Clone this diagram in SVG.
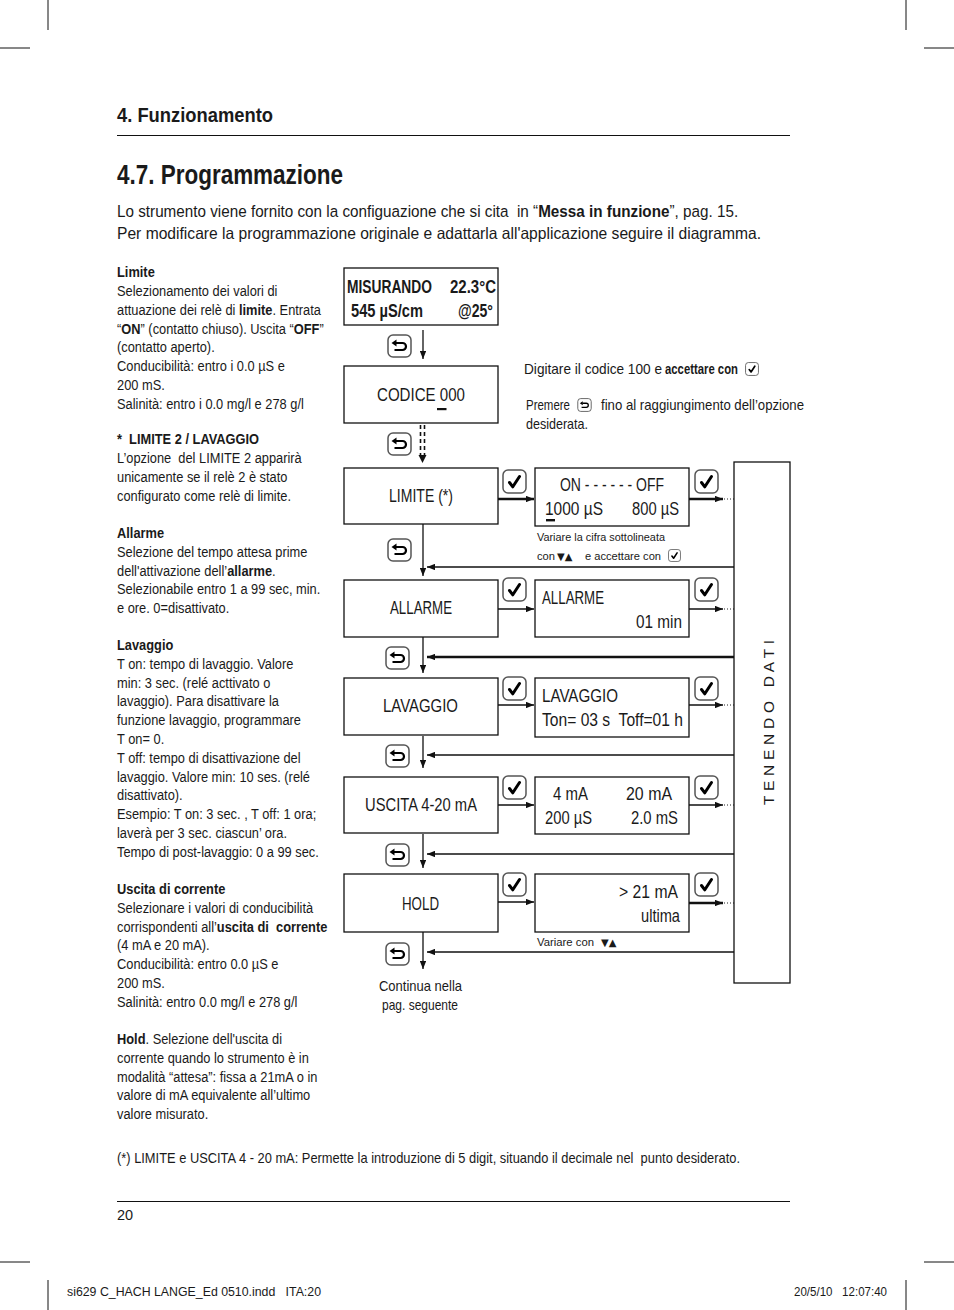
<svg xmlns="http://www.w3.org/2000/svg" width="954" height="1310" viewBox="0 0 954 1310">
<defs>
<style>
text{font-family:"Liberation Sans",Arial,sans-serif;fill:#1a1a1a}
.b{font-weight:bold}
.body{font-size:14.5px}
.d{font-size:17.5px}
.sm{font-size:11.5px}
.box{fill:#fff;stroke:#111;stroke-width:1.3}
.ln{stroke:#111;stroke-width:1.3;fill:none}
.tk{stroke-width:2.4}
.dot{stroke:#222;stroke-width:1;stroke-dasharray:1 2;fill:none}
.mark{stroke:#111;stroke-width:1;fill:none}
.dash{stroke:#111;stroke-width:1.6;stroke-dasharray:4 3;fill:none}
.tri{font-family:"DejaVu Sans",sans-serif;font-size:10px}
</style>
<marker id="ah" viewBox="0 0 10 8" refX="10" refY="4" markerWidth="8" markerHeight="6.4" markerUnits="userSpaceOnUse" orient="auto"><path d="M0,0 L10,4 L0,8 z" fill="#111"/></marker>
<symbol id="back" viewBox="0 0 25 24">
<rect x="1" y="1" width="23" height="22" rx="5" fill="#fff" stroke="#555" stroke-width="1.5"/>
<path d="M9 9 H15.5 A3.5 3.5 0 0 1 15.5 16 H7.5" fill="none" stroke="#000" stroke-width="2.2"/>
<path d="M4.5 9 L9.5 5.5 L9.5 12.5 Z" fill="#000"/>
</symbol>
<symbol id="chk" viewBox="0 0 25 25">
<rect x="1" y="1" width="23" height="23" rx="5" fill="#fff" stroke="#555" stroke-width="1.5"/>
<path d="M7.5 13.5 L10.8 17.8 L17.5 7.5" fill="none" stroke="#000" stroke-width="3" stroke-linecap="round" stroke-linejoin="round"/>
</symbol>
</defs>

<g id="cropmarks" class="mark">
<line x1="48" y1="0" x2="48" y2="30"/><line x1="0" y1="48" x2="30" y2="48"/>
<line x1="906" y1="0" x2="906" y2="30"/><line x1="924" y1="48" x2="954" y2="48"/>
<line x1="0" y1="1262" x2="30" y2="1262"/><line x1="924" y1="1262" x2="954" y2="1262"/>
<line x1="48" y1="1280" x2="48" y2="1310"/><line x1="906" y1="1280" x2="906" y2="1310"/>
</g>

<g id="header">
<text x="117" y="122" class="b" font-size="20" textLength="156" lengthAdjust="spacingAndGlyphs">4. Funzionamento</text>
<line x1="117" y1="135.5" x2="790" y2="135.5" stroke="#111" stroke-width="1.2"/>
<text x="117" y="184" class="b" font-size="28" textLength="226" lengthAdjust="spacingAndGlyphs">4.7. Programmazione</text>
<text transform="translate(117 217) scale(0.925 1)" x="0" y="0" font-size="16.5" xml:space="preserve">Lo strumento viene fornito con la configuazione che si cita  in “<tspan class="b">Messa in funzione</tspan>”, pag. 15.</text>
<text x="117" y="239" font-size="16.5" textLength="644" lengthAdjust="spacingAndGlyphs">Per modificare la programmazione originale e adattarla all'applicazione seguire il diagramma.</text>
</g>

<g id="sidebar" transform="translate(117 0) scale(0.885 1)">
<text x="0" y="277" class="body b">Limite</text>
<text x="0" y="295.9" class="body">Selezionamento dei valori di</text>
<text x="0" y="314.7" class="body">attuazione dei relè di <tspan class="b">limite</tspan>. Entrata</text>
<text x="0" y="333.6" class="body">“<tspan class="b">ON</tspan>” (contatto chiuso). Uscita “<tspan class="b">OFF</tspan>”</text>
<text x="0" y="352.4" class="body">(contatto aperto).</text>
<text x="0" y="371.3" class="body">Conducibilità: entro i 0.0 µS e</text>
<text x="0" y="390.1" class="body">200 mS.</text>
<text x="0" y="409" class="body">Salinità: entro i 0.0 mg/l e 278 g/l</text>

<text x="0" y="444.5" class="body b" xml:space="preserve">*  LIMITE 2 / LAVAGGIO</text>
<text x="0" y="463.3" class="body" xml:space="preserve">L’opzione  del LIMITE 2 apparirà</text>
<text x="0" y="482.2" class="body">unicamente se il relè 2 è stato</text>
<text x="0" y="501" class="body">configurato come relè di limite.</text>

<text x="0" y="538" class="body b">Allarme</text>
<text x="0" y="556.8" class="body">Selezione del tempo attesa prime</text>
<text x="0" y="575.6" class="body">dell'attivazione dell’<tspan class="b">allarme</tspan>.</text>
<text x="0" y="594.4" class="body">Selezionabile entro 1 a 99 sec, min.</text>
<text x="0" y="613.2" class="body">e ore. 0=disattivato.</text>

<text x="0" y="650" class="body b">Lavaggio</text>
<text x="0" y="668.8" class="body">T on: tempo di lavaggio. Valore</text>
<text x="0" y="687.6" class="body">min: 3 sec. (relé acttivato o</text>
<text x="0" y="706.4" class="body">lavaggio). Para disattivare la</text>
<text x="0" y="725.2" class="body">funzione lavaggio, programmare</text>
<text x="0" y="744" class="body">T on= 0.</text>
<text x="0" y="762.8" class="body">T off: tempo di disattivazione del</text>
<text x="0" y="781.6" class="body">lavaggio. Valore min: 10 ses. (relé</text>
<text x="0" y="800.4" class="body">disattivato).</text>
<text x="0" y="819.2" class="body">Esempio: T on: 3 sec. , T off: 1 ora;</text>
<text x="0" y="838" class="body">laverà per 3 sec. ciascun’ ora.</text>
<text x="0" y="856.8" class="body">Tempo di post-lavaggio: 0 a 99 sec.</text>

<text x="0" y="894" class="body b">Uscita di corrente</text>
<text x="0" y="912.8" class="body">Selezionare i valori di conducibilità</text>
<text x="0" y="931.6" class="body" xml:space="preserve">corrispondenti all’<tspan class="b">uscita di  corrente</tspan></text>
<text x="0" y="950.4" class="body">(4 mA e 20 mA).</text>
<text x="0" y="969.2" class="body">Conducibilità: entro 0.0 µS e</text>
<text x="0" y="988" class="body">200 mS.</text>
<text x="0" y="1006.8" class="body">Salinità: entro 0.0 mg/l e 278 g/l</text>

<text x="0" y="1044" class="body"><tspan class="b">Hold</tspan>. Selezione dell'uscita di</text>
<text x="0" y="1062.8" class="body">corrente quando lo strumento è in</text>
<text x="0" y="1081.6" class="body">modalità “attesa”: fissa a 21mA o in</text>
<text x="0" y="1100.4" class="body">valore di mA equivalente all’ultimo</text>
<text x="0" y="1119.2" class="body">valore misurato.</text>
</g>

<g id="connectors">
<line class="ln" x1="423" y1="330" x2="423" y2="359" marker-end="url(#ah)"/>
<line class="dash" x1="420.5" y1="425" x2="420.5" y2="455"/>
<line class="dash" x1="424.5" y1="425" x2="424.5" y2="455"/>
<path d="M418.5 455 L426.5 455 L422.5 463 Z" fill="#111"/>
<line class="ln" x1="423" y1="524" x2="423" y2="576" marker-end="url(#ah)"/>
<line class="ln" x1="423" y1="637" x2="423" y2="673" marker-end="url(#ah)"/>
<line class="ln" x1="423" y1="736" x2="423" y2="768" marker-end="url(#ah)"/>
<line class="ln" x1="423" y1="834" x2="423" y2="868" marker-end="url(#ah)"/>
<line class="ln" x1="423" y1="932" x2="423" y2="969" marker-end="url(#ah)"/>

<line class="ln tk" x1="498" y1="499" x2="534" y2="499" marker-end="url(#ah)"/>
<line class="ln" x1="498" y1="609" x2="534" y2="609" marker-end="url(#ah)"/>
<line class="ln" x1="498" y1="705" x2="534" y2="705" marker-end="url(#ah)"/>
<line class="ln" x1="498" y1="805" x2="534" y2="805" marker-end="url(#ah)"/>
<line class="ln" x1="498" y1="902" x2="534" y2="902" marker-end="url(#ah)"/>

<line class="ln tk" x1="689" y1="499" x2="723" y2="499" marker-end="url(#ah)"/>
<line class="ln" x1="689" y1="609" x2="723" y2="609" marker-end="url(#ah)"/>
<line class="ln" x1="689" y1="705" x2="723" y2="705" marker-end="url(#ah)"/>
<line class="ln" x1="689" y1="805" x2="723" y2="805" marker-end="url(#ah)"/>
<line class="ln tk" x1="689" y1="903" x2="723" y2="903" marker-end="url(#ah)"/>

<path class="dot" d="M724 499 H744.5 V567 H734"/>
<path class="dot" d="M724 609 H744.5 V657 H734"/>
<path class="dot" d="M724 705 H744.5 V755 H734"/>
<path class="dot" d="M724 805 H744.5 V854 H734"/>
<path class="dot" d="M724 903 H744.5 V952 H734"/>

<line class="ln" x1="734" y1="567" x2="427" y2="567" marker-end="url(#ah)"/>
<line class="ln tk" x1="734" y1="657" x2="427" y2="657" marker-end="url(#ah)"/>
<line class="ln" x1="734" y1="755" x2="427" y2="755" marker-end="url(#ah)"/>
<line class="ln" x1="734" y1="854" x2="427" y2="854" marker-end="url(#ah)"/>
<line class="ln" x1="734" y1="952" x2="427" y2="952" marker-end="url(#ah)"/>
</g>

<g id="keys">
<use href="#back" x="387" y="334" width="25" height="24"/>
<use href="#back" x="387" y="432" width="25" height="24"/>
<use href="#back" x="387" y="538" width="25" height="24"/>
<use href="#back" x="385" y="646" width="25" height="24"/>
<use href="#back" x="385" y="744" width="25" height="24"/>
<use href="#back" x="385" y="843" width="25" height="24"/>
<use href="#back" x="385" y="942" width="25" height="24"/>
<use href="#chk" x="502" y="469" width="25" height="25"/>
<use href="#chk" x="502" y="577" width="25" height="25"/>
<use href="#chk" x="502" y="676" width="25" height="25"/>
<use href="#chk" x="502" y="775" width="25" height="25"/>
<use href="#chk" x="502" y="872" width="25" height="25"/>
<use href="#chk" x="694" y="469" width="25" height="25"/>
<use href="#chk" x="694" y="577" width="25" height="25"/>
<use href="#chk" x="694" y="676" width="25" height="25"/>
<use href="#chk" x="694" y="775" width="25" height="25"/>
<use href="#chk" x="694" y="872" width="25" height="25"/>
</g>

<g id="misurando">
<rect class="box" x="344" y="268" width="154" height="57"/>
<text x="347" y="293" class="b" font-size="17.5" textLength="85" lengthAdjust="spacingAndGlyphs">MISURANDO</text>
<text x="450" y="293" class="b" font-size="17.5" textLength="46" lengthAdjust="spacingAndGlyphs">22.3°C</text>
<text x="351" y="317" class="b" font-size="17.5" textLength="72" lengthAdjust="spacingAndGlyphs">545 µS/cm</text>
<text x="458" y="317" class="b" font-size="17.5" textLength="35" lengthAdjust="spacingAndGlyphs">@25°</text>
</g>

<g id="codice">
<rect class="box" x="344" y="366" width="154" height="57"/>
<text x="377" y="401" class="d" textLength="88" lengthAdjust="spacingAndGlyphs">CODICE 000</text>
<rect x="437" y="408" width="9.5" height="2.2" fill="#111"/>
</g>

<g id="note-codice">
<text x="524" y="374" font-size="14.5" textLength="138" lengthAdjust="spacingAndGlyphs">Digitare il codice 100 e</text>
<text x="665" y="374" font-size="14.5" class="b" textLength="73" lengthAdjust="spacingAndGlyphs">accettare con</text>
<use href="#chk" x="745" y="362" width="14" height="14"/>
<text x="526" y="410" font-size="14.5" textLength="44" lengthAdjust="spacingAndGlyphs">Premere</text>
<use href="#back" x="577" y="398" width="15" height="14"/>
<text x="601" y="410" font-size="14.5" textLength="203" lengthAdjust="spacingAndGlyphs">fino al raggiungimento dell’opzione</text>
<text x="526" y="429" font-size="14.5" textLength="62" lengthAdjust="spacingAndGlyphs">desiderata.</text>
</g>

<g id="limite">
<rect class="box" x="344" y="468" width="154" height="56"/>
<text x="389" y="502" class="d" textLength="64" lengthAdjust="spacingAndGlyphs">LIMITE (*)</text>
</g>
<g id="limite-val">
<rect class="box" x="535" y="468" width="154" height="58"/>
<text x="560" y="491" class="d" textLength="104" lengthAdjust="spacingAndGlyphs">ON - - - - - - OFF</text>
<text x="545" y="515" class="d" textLength="58" lengthAdjust="spacingAndGlyphs">1000 µS</text>
<text x="632" y="515" class="d" textLength="47" lengthAdjust="spacingAndGlyphs">800 µS</text>
<rect x="546" y="519" width="9" height="2.4" fill="#111"/>
<text x="537" y="541" class="sm" textLength="128" lengthAdjust="spacingAndGlyphs">Variare la cifra sottolineata</text>
<text x="537" y="560" class="sm" textLength="18" lengthAdjust="spacingAndGlyphs">con</text>
<text x="557" y="560" class="tri">▼▲</text>
<text x="585" y="560" class="sm" textLength="76" lengthAdjust="spacingAndGlyphs">e accettare con</text>
<use href="#chk" x="668" y="549" width="13" height="13"/>
</g>

<g id="allarme">
<rect class="box" x="344" y="580" width="154" height="57"/>
<text x="390" y="614" class="d" textLength="62" lengthAdjust="spacingAndGlyphs">ALLARME</text>
</g>
<g id="allarme-val">
<rect class="box" x="535" y="580" width="154" height="57"/>
<text x="542" y="604" class="d" textLength="62" lengthAdjust="spacingAndGlyphs">ALLARME</text>
<text x="636" y="628" class="d" textLength="46" lengthAdjust="spacingAndGlyphs">01 min</text>
</g>

<g id="lavaggio">
<rect class="box" x="344" y="678" width="154" height="57"/>
<text x="383" y="712" class="d" textLength="75" lengthAdjust="spacingAndGlyphs">LAVAGGIO</text>
</g>
<g id="lavaggio-val">
<rect class="box" x="535" y="678" width="154" height="59"/>
<text x="542" y="702" class="d" textLength="76" lengthAdjust="spacingAndGlyphs">LAVAGGIO</text>
<text x="542" y="726" class="d" textLength="141" lengthAdjust="spacingAndGlyphs" xml:space="preserve">Ton= 03 s  Toff=01 h</text>
</g>

<g id="uscita">
<rect class="box" x="344" y="777" width="154" height="56"/>
<text x="365" y="811" class="d" textLength="112" lengthAdjust="spacingAndGlyphs">USCITA 4-20 mA</text>
</g>
<g id="uscita-val">
<rect class="box" x="535" y="777" width="154" height="57"/>
<text x="553" y="800" class="d" textLength="35" lengthAdjust="spacingAndGlyphs">4 mA</text>
<text x="626" y="800" class="d" textLength="46" lengthAdjust="spacingAndGlyphs">20 mA</text>
<text x="545" y="824" class="d" textLength="47" lengthAdjust="spacingAndGlyphs">200 µS</text>
<text x="631" y="824" class="d" textLength="47" lengthAdjust="spacingAndGlyphs">2.0 mS</text>
</g>

<g id="hold">
<rect class="box" x="344" y="874" width="154" height="58"/>
<text x="402" y="910" class="d" textLength="37" lengthAdjust="spacingAndGlyphs">HOLD</text>
</g>
<g id="hold-val">
<rect class="box" x="535" y="874" width="154" height="58"/>
<text x="619" y="898" class="d" textLength="59" lengthAdjust="spacingAndGlyphs">&gt; 21 mA</text>
<text x="641" y="922" class="d" textLength="39" lengthAdjust="spacingAndGlyphs">ultima</text>
<text x="537" y="946" class="sm" textLength="57" lengthAdjust="spacingAndGlyphs">Variare con</text>
<text x="601" y="946" class="tri">▼▲</text>
</g>

<g id="continua">
<text x="379" y="991" font-size="14.5" textLength="83" lengthAdjust="spacingAndGlyphs">Continua nella</text>
<text x="382" y="1010" font-size="14.5" textLength="76" lengthAdjust="spacingAndGlyphs">pag. seguente</text>
</g>

<g id="tenendo-dati">
<rect class="box" x="734" y="462" width="56" height="521"/>
<text transform="translate(774,722.5) rotate(-90)" x="-82.5" y="0" font-size="15.5" textLength="165" lengthAdjust="spacing" xml:space="preserve">T E N E N D O   D A T I</text>
</g>

<g id="footer">
<text x="117" y="1163" font-size="14.5" textLength="623" lengthAdjust="spacingAndGlyphs" xml:space="preserve">(*) LIMITE e USCITA 4 - 20 mA: Permette la introduzione di 5 digit, situando il decimale nel  punto desiderato.</text>
<line x1="117" y1="1201.5" x2="790" y2="1201.5" stroke="#111" stroke-width="1.2"/>
<text x="117" y="1220" font-size="14.5">20</text>
<text x="67" y="1296" font-size="12" textLength="254" lengthAdjust="spacingAndGlyphs" xml:space="preserve">si629 C_HACH LANGE_Ed 0510.indd   ITA:20</text>
<text x="794" y="1296" font-size="12" textLength="93" lengthAdjust="spacingAndGlyphs" xml:space="preserve">20/5/10   12:07:40</text>
</g>
</svg>
